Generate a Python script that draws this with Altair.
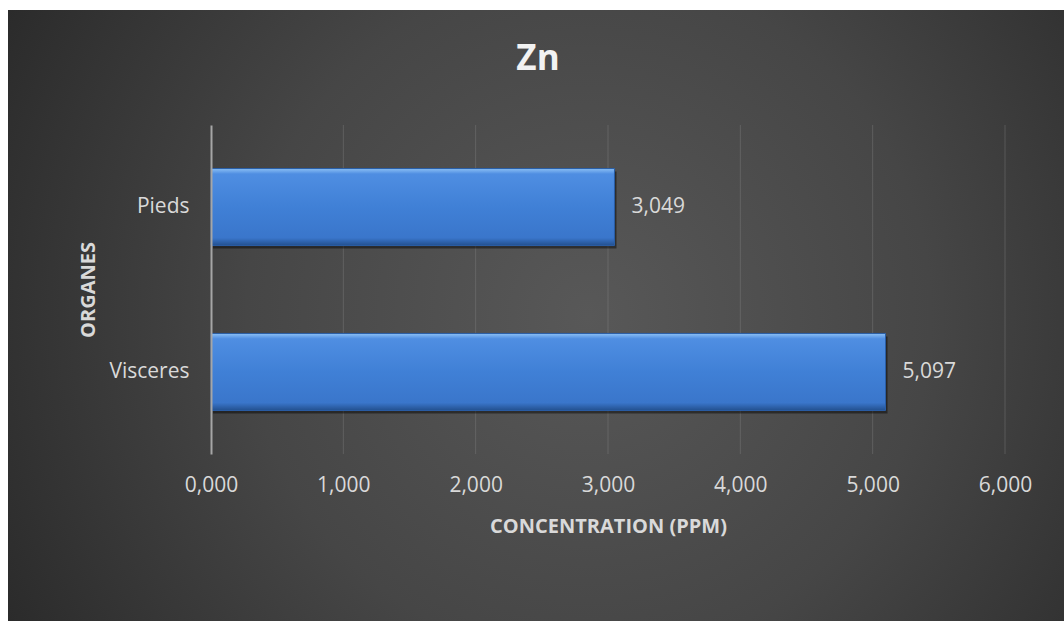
import altair as alt
import pandas as pd

organes = ["Pieds", "Visceres"]
concentrations = [3.049, 5.097]
x_ticks = [0, 1, 2, 3, 4, 5, 6]
grid_ticks = [1, 2, 3, 4, 5, 6]

df = pd.DataFrame({"Organe": organes, "Conc": concentrations})
grid_df = pd.DataFrame({"t": grid_ticks})

FONT = "Open Sans"
W, H = 794, 329
PL, PT = 211, 125

bg = alt.Chart(pd.DataFrame({"a": [0]})).mark_rect(
    fill=alt.Gradient(
        gradient="radial",
        x1=0.55, y1=0.5, r1=0.0,
        x2=0.55, y2=0.5, r2=0.72,
        stops=[
            alt.GradientStop(offset=0.0, color="#585858"),
            alt.GradientStop(offset=0.45, color="#464646"),
            alt.GradientStop(offset=1.0, color="#222222"),
        ],
    ),
    clip=False,
).encode(
    x=alt.value(8 - PL), x2=alt.value(1064 - PL),
    y=alt.value(10 - PT), y2=alt.value(621 - PT),
)

ysc = alt.Scale(domain=organes, paddingInner=0.533, paddingOuter=0.264)
xsc = alt.Scale(domain=[0, 6], nice=False)

grid = alt.Chart(grid_df).mark_rule(color="#8c8c8c", opacity=0.35, strokeWidth=1).encode(
    x=alt.X("t:Q", scale=xsc),
    y=alt.value(0),
    y2=alt.value(H),
)

base = alt.Chart(df)

shadow = base.mark_bar(color="#000000", opacity=0.45, xOffset=2, yOffset=3).encode(
    x=alt.X("Conc:Q", scale=xsc),
    y=alt.Y("Organe:N", scale=ysc, sort=organes),
)

bars = base.mark_bar(
    fill=alt.Gradient(
        gradient="linear", x1=0, y1=0, x2=0, y2=1,
        stops=[
            alt.GradientStop(offset=0.0, color="#8cc0f5"),
            alt.GradientStop(offset=0.07, color="#4f8ee2"),
            alt.GradientStop(offset=0.5, color="#4080d6"),
            alt.GradientStop(offset=0.9, color="#3a76cb"),
            alt.GradientStop(offset=1.0, color="#23508f"),
        ],
    ),
    stroke="#2a5ea6",
    strokeWidth=1,
).encode(
    x=alt.X(
        "Conc:Q",
        scale=xsc,
        title="CONCENTRATION (PPM)",
        axis=alt.Axis(
            values=x_ticks,
            labelExpr="replace(format(datum.value, '.3f'), '.', ',')",
            labelFlush=False,
            grid=False,
            domain=False,
            ticks=False,
            labelPadding=20,
            titlePadding=21,
            zindex=1,
        ),
    ),
    y=alt.Y(
        "Organe:N",
        scale=ysc,
        sort=organes,
        title="ORGANES",
        axis=alt.Axis(
            grid=False,
            ticks=False,
            domain=True,
            domainColor="#a6a6a6",
            domainWidth=2,
            labelPadding=22,
            titlePadding=10,
            zindex=1,
        ),
    ),
)

labels = base.mark_text(
    align="left", baseline="middle", dx=17, font=FONT, fontSize=21, color="#d9d9d9"
).transform_calculate(
    lab="replace(format(datum.Conc, '.3f'), '.', ',')"
).encode(
    x=alt.X("Conc:Q", scale=xsc),
    y=alt.Y("Organe:N", scale=ysc, sort=organes),
    text="lab:N",
)

title = alt.Chart(pd.DataFrame({"a": [0]})).mark_text(
    align="center", baseline="alphabetic", font=FONT, fontSize=35,
    fontWeight="bold", color="#f2f2f2",
).encode(
    x=alt.value(538 - PL), y=alt.value(70 - PT), text=alt.value("Zn"),
)

chart = alt.layer(bg, grid, shadow, bars, labels, title).properties(
    width=W,
    height=H,
    autosize=alt.AutoSizeParams(type="none"),
    padding={"left": PL, "top": PT, "right": 1064 - PL - W, "bottom": 621 - PT - H},
    background="white",
).configure_view(stroke=None).configure_axis(
    labelFont=FONT,
    labelFontSize=21,
    labelColor="#d9d9d9",
    titleFont=FONT,
    titleFontSize=20,
    titleFontWeight="bold",
    titleColor="#d9d9d9",
)

chart.save("out.html", embed_options={"renderer": "svg", "actions": False})
